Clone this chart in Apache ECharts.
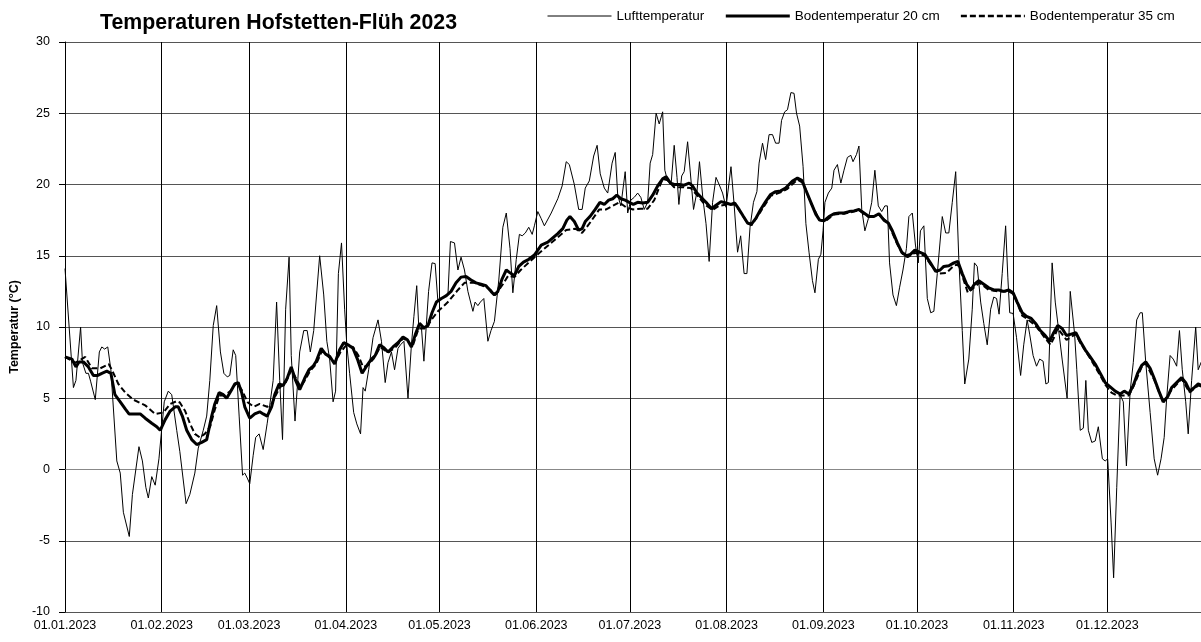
<!DOCTYPE html>
<html>
<head>
<meta charset="utf-8">
<script src="https://cdn.jsdelivr.net/npm/echarts@6/dist/echarts.min.js"></script>
<style>
  html, body { margin: 0; padding: 0; background: #fff; }
  #main { width: 1201px; height: 642px; }
</style>
</head>
<body>
<div id="main"></div>
<script>
// values: [day of year (0 = 01.01.2023), °C]
var airTemp = [
  [0,14.1],[2.7,5.75],[3.5,6.25],[5.0,10],[5.6,7.5],[6.7,6.75],[7.5,6.75],[8.2,6.2],[9.7,4.9],[11,8.25],[11.8,8.6],[12.7,8.45],[13.7,8.6],[14.7,7],
  [16.6,0.6],[17.7,-0.25],[18.7,-3],[20.6,-4.7],[21.6,-1.75],[23.7,1.6],[24.8,0.6],[25.9,-1.25],[26.7,-2],[27.8,-0.5],[28.9,-1.1],[30.1,0.75],
  [31.8,4.75],[33.1,5.5],[34.2,5.25],[35.8,2.75],[36.8,1.25],[38.8,-2.4],[40,-1.75],[41.6,-0.25],[42.7,1.5],[44.3,2.75],[45.4,3.75],[46.4,6.25],
  [47.5,10.1],[48.6,11.5],[49.8,8.25],[50.9,6.75],[52,6.5],[52.8,6.6],[53.9,8.4],[54.7,8],[55.8,3.75],[56.9,-0.4],[57.6,-0.25],[58.4,-0.6],
  [59.2,-1],[60.3,1],[61.1,2.25],[62.2,2.5],[63.5,1.4],[64.8,3.25],[66.7,6.25],[67.8,11.75],[68.8,6.25],[69.7,2.1],[70.7,11.25],[71.8,14.9],
  [72.5,8],[73.7,3.4],[75.2,8.25],[76.5,9.75],[77.6,9.75],[78.6,8.25],[79.7,9.75],[81.6,15],[82.9,12.25],[83.9,9],[84.8,7.75],[85.9,4.75],
  [86.7,5.5],[87.6,13.75],[88.6,15.9],[89.6,11.25],[90.3,8.75],[91.2,6.75],[92.5,4],[93.5,3.2],[94.7,2.5],[95.5,5.75],[96.2,5.5],[97.3,7],
  [98.7,9.25],[100.3,10.5],[101.4,9],[102.6,6.1],[103.5,7.5],[104.6,8.25],[105.6,7],[106.7,8.5],[107.5,8.75],[108.6,9],[109.9,5],[111,8.75],
  [111.8,10.75],[112.7,12.9],[113.3,10.25],[114.2,10],[115,7.6],[115.6,7.6],[116.5,12.5],[117.6,14.5],[118.6,14.45],[119.5,11.75],[120.3,12],
  [121.6,12.1],[122.7,12.25],[123.5,16],[124.8,15.9],[125.9,14],[126.9,14.9],[128,14],[129.1,12.5],[130.7,11.1],[131.4,11.75],[132.3,11.5],
  [133.1,11.75],[134.2,12],[135.5,9],[136.5,9.75],[137.6,10.4],[139,13.3],[140.3,17],[141.4,18],[142.6,15.5],[143.5,12.4],[144.6,14.75],
  [145.6,16.5],[146.5,16.4],[147.5,16.6],[148.6,17],[149.7,16.5],[150.4,17.1],[151.5,18.1],[152.6,17.6],[153.6,17.1],[155.8,18],[157.9,19],
  [159.3,19.9],[160.6,21.6],[161.6,21.4],[163.2,20],[164.6,18.25],[165.7,18.25],[166.7,19.75],[168,20.25],[169.4,22],[170.5,22.75],[171.5,20.75],
  [172.8,19.75],[173.9,19.4],[175.3,21.5],[176.3,22.25],[177.1,19.25],[178.1,18.5],[179.5,20.9],[180.3,18],[181.3,18.9],[182.4,19.1],[183.5,19.4],
  [184.5,19.1],[185.6,18.25],[186.7,18.75],[187.5,21.5],[188.3,22.1],[189.4,25],[190.4,24.25],[191.5,25.1],[192.2,21],[193.1,20.25],[194.2,20],
  [195.2,22.75],[196.1,20.5],[196.7,18.6],[197.6,20.6],[198.4,20.9],[199.5,23],[200.6,20.25],[201.4,18.25],[202.5,19.5],[203.3,21.6],[204.4,19],
  [205.4,17.25],[206.4,14.6],[207.5,18.75],[208.6,20.5],[209.6,20],[210.7,19.4],[211.8,18.4],[213.4,21.25],[214.4,18.6],[215.5,15.25],[216.5,16.4],
  [217.6,13.75],[218.5,13.75],[219.5,17],[220.6,18.75],[221.7,19.5],[222.4,21.5],[223.5,22.9],[224.5,21.75],[225.6,23.5],[226.7,23.5],[227.7,22.9],
  [228.8,22.9],[229.6,24.5],[230.6,25.1],[231.5,25.25],[232.6,26.45],[233.6,26.4],[234.4,25],[235.4,24.1],[236.5,21.25],[237.4,17.25],[238.4,15.25],
  [239.5,13.25],[240.3,12.4],[241.4,14.75],[242.2,15.1],[242.9,16.75],[243.5,18.75],[244.6,19.4],[245.7,19.75],[246.4,21],[247.5,21.4],[248.6,20.1],
  [249.6,21],[250.7,21.9],[251.8,22.05],[252.5,21.6],[253.6,22.1],[254.4,22.7],[255.3,18.25],[256.3,16.75],[257.4,17.6],[258.5,18.75],[259.5,21],
  [260.6,18.5],[261.7,18.1],[262.7,18.5],[263.5,18.5],[264.2,14.5],[265.3,12.25],[266.4,11.5],[267.4,12.75],[268.5,14],[269.6,15.5],[270.4,17.75],
  [271.5,18],[272.5,15.75],[273.4,14.5],[274.1,16.75],[275.2,17.1],[276.3,12],[277.4,11],[278.4,11.1],[279.5,13.75],[281.1,17.75],[282.2,16.6],
  [283.2,16.6],[284.3,18.75],[285.4,20.9],[286.4,14.75],[287.5,9.75],[288.3,6],[289.6,7.75],[290.7,11.25],[291.4,14.5],[292.3,14.25],[293.4,11.75],
  [294.4,10.25],[295.5,8.75],[296.6,11.25],[297.6,12.1],[298.5,12],[299.3,10.9],[300.3,13.75],[301.4,17.1],[302.1,13.5],[302.7,11],[303.8,10.95],
  [304.9,9.25],[306.2,6.6],[307.2,8.75],[308.3,10.5],[309.1,9.5],[310.2,8],[311.3,7.25],[312.3,7.75],[313.4,7.6],[314.3,6],[315.1,6.1],[316.3,14.5],
  [317.3,11.75],[318.4,9.75],[319.5,7.75],[321.1,5],[322.1,12.5],[323.5,9.5],[324.2,7],[325.3,2.75],[326.3,2.9],[327.1,6.25],[327.9,2.75],[329,1.9],
  [330.1,2],[331.1,3],[332.4,0.75],[333.3,0.6],[334.1,0.75],[335.2,-3.75],[336,-7.6],[337,-1.25],[338.1,5.25],[339.1,4.75],[340.1,0.25],[341.3,5.5],
  [342.3,7.5],[343.4,10.5],[344.5,11],[345.2,11],[346.3,7.5],[347.7,4],[349,0.75],[350.1,-0.4],[351.2,0.75],[352.2,2.25],[353,5],[354.1,8],
  [355.1,7.75],[356.2,7.25],[357.1,9.75],[358,7],[359.1,4.75],[359.9,2.5],[361,6.25],[362.3,10],[363.1,7],[364.2,7.6]
]

var soil20 = [
  [0,7.9],[2.2,7.75],[3.5,7.2],[4.5,7.55],[5.9,7.55],[7.5,7.2],[9.1,6.6],[10.5,6.6],[11.8,6.75],[13.4,6.9],[14.7,6.75],[16,5.25],[17.7,4.75],
  [19.3,4.25],[20.5,3.9],[21.9,3.9],[24.1,3.9],[25.7,3.6],[27.8,3.25],[29.4,3],[30.5,2.75],[32.1,3.5],[33.7,4.1],[35.3,4.4],[36.3,4.4],[37.6,3.75],
  [39,2.75],[40.6,2.1],[42.2,1.75],[43.8,1.9],[45.4,2.1],[47,3.75],[48,4.6],[49.4,5.4],[50.7,5.25],[51.8,5],[53.4,5.6],[54.4,6],[55.5,6.1],
  [56.6,5.4],[57.6,4.4],[59.2,3.6],[60.8,3.9],[62.4,4.05],[63.5,3.9],[64.8,3.75],[66.2,4.4],[67.2,5.25],[68.6,6],[69.9,5.9],[71.2,6.4],[72.5,7.2],
  [73.9,6.25],[75.2,5.6],[76.8,6.4],[78.2,7],[79.5,7.25],[80.5,7.6],[82.1,8.5],[83.5,8.1],[84.8,7.95],[86.4,7.4],[88,8.4],[89.3,8.9],[90.7,8.75],
  [92.3,8.5],[93.7,7.75],[95.2,6.75],[96.6,7.25],[98.2,7.75],[99.4,8],[100.8,8.75],[102.2,8.55],[103.5,8.25],[105.1,8.6],[106.7,8.9],[108.3,9.3],
  [109.7,9.1],[111,8.6],[112.3,9.5],[113.6,10.25],[115,9.95],[116.3,10.1],[117.6,11],[119,11.75],[120.6,12],[122.2,12.2],[123.7,12.5],[125.3,13.1],
  [126.9,13.5],[128.5,13.55],[130.1,13.3],[131.7,13.1],[133.3,13],[134.9,12.9],[136.5,12.5],[137.6,12.25],[138.7,12.5],[140.1,13.4],[141.4,14],
  [142.6,13.8],[144,13.6],[145.4,14.25],[146.9,14.55],[148.6,14.75],[150.4,15.05],[152.6,15.75],[154.7,15.95],[156.3,16.25],[157.9,16.55],
  [159.5,16.9],[160.8,17.5],[161.8,17.75],[163.2,17.4],[164.6,16.8],[165.7,16.9],[166.7,17.4],[168.2,17.75],[169.9,18.25],[171.4,18.75],
  [172.8,18.6],[174.2,18.9],[175.5,19],[176.8,19.25],[178.1,19],[179.5,18.9],[180.8,18.75],[182.1,18.6],[183.5,18.75],[185.1,18.7],[186.7,18.75],
  [188.3,19.25],[189.9,19.9],[191.5,20.4],[192.6,20.55],[194,20.1],[195.2,20],[196.8,20],[198.4,19.95],[200,20.1],[201.1,19.9],[202.5,19.4],
  [203.8,19.1],[205.4,18.75],[207.2,18.3],[208.6,18.55],[210.2,18.8],[211.8,18.7],[213.4,18.6],[214.6,18.7],[216,18.25],[217.4,17.75],[218.7,17.3],
  [219.9,17.2],[221.3,17.6],[222.9,18.25],[224.5,18.8],[226.1,19.3],[227.7,19.5],[229.3,19.55],[230.9,19.75],[233.1,20.25],[234.7,20.45],
  [236.1,20.3],[237.4,19.6],[239,18.75],[240.6,17.9],[241.8,17.5],[243.2,17.45],[244.8,17.75],[246.4,17.95],[248,18],[249.6,18],[251.2,18.1],
  [252.8,18.15],[254.4,18.25],[256,18],[257.6,17.75],[259.2,17.75],[260.8,17.95],[262.4,17.5],[263.8,17.3],[265.1,16.75],[266.7,15.9],[268.1,15.25],
  [269.6,15],[270.9,15.1],[272.3,15.4],[273.8,15.25],[275.5,15.1],[277.3,14.5],[279,13.9],[280.4,14],[281.6,14.25],[283.2,14.3],[284.8,14.5],
  [286.1,14.6],[287.5,13.75],[288.9,13],[290.2,12.6],[291.4,13],[292.8,13.25],[294.4,13],[296,12.75],[297.6,12.6],[299.2,12.6],[300.8,12.5],
  [302.4,12.6],[303.8,12.4],[305.1,11.75],[306.7,11],[308.1,10.75],[309.6,10.6],[311,10.25],[312.5,9.75],[314.1,9.4],[315.5,9],[316.8,9.6],
  [318.1,10.1],[319.5,9.9],[320.9,9.4],[322.4,9.5],[323.9,9.6],[325.3,9],[326.9,8.4],[328.5,7.9],[330.1,7.4],[331.7,6.75],[333.3,6.1],[334.9,5.8],
  [336.5,5.5],[338.1,5.3],[339.4,5.5],[340.9,5.3],[342.3,5.9],[343.7,6.75],[345,7.3],[346.3,7.55],[347.7,7.1],[349,6.4],[350.5,5.5],[351.9,4.75],
  [353.3,5.1],[354.6,5.75],[356.2,6.1],[357.8,6.45],[359.1,6.1],[360.4,5.5],[361.8,5.75],[363.1,6],[364.4,5.9]
]

var soil35 = [
  [0,7.9],[3.3,7.5],[6.5,7.9],[8.6,7.1],[11.3,7.1],[14,7.4],[15,7],[17.1,6],[19.3,5.4],[21.9,4.9],[25.7,4.5],[28.9,3.9],[31.5,4],[33.7,4.6],
  [35.8,4.8],[36.8,4.7],[38.5,4.1],[40,3.25],[41.6,2.5],[43.2,2.25],[44.8,2.5],[46.5,3],[48,4.2],[49.5,5.2],[51,5.2],[53,5.5],[55,6.1],[56.6,5.6],
  [58.6,4.7],[60.5,4.4],[62.4,4.6],[64.8,4.4],[66.2,4.6],[67.5,5.2],[69,5.8],[70.5,6],[72.5,7],[74,6.4],[75.5,5.8],[77,6.3],[78.5,6.9],[80.5,7.4],
  [82.3,8.3],[84,8],[86.5,7.5],[88.2,8.2],[90,8.7],[92.3,8.6],[94,8],[95.5,7.2],[97,7.3],[99,7.8],[101,8.6],[103.5,8.2],[106,8.6],[108.3,9.2],
  [110,9],[111.3,8.6],[113.3,9.9],[115.7,9.9],[117.4,10.5],[119.5,11.1],[122.7,11.75],[125.9,12.6],[128,13.1],[131.2,13.1],[135.5,12.75],
  [138.1,12.3],[140.3,13],[142,13.6],[144,13.5],[146,14],[149,14.6],[151.5,15.1],[156.3,16],[160.6,16.8],[163.5,16.9],[165.7,16.6],[168,17.25],
  [171.2,18.25],[173.4,18.25],[175.5,18.5],[177.6,18.75],[179.8,18.4],[182,18.25],[184.5,18.3],[186.7,18.3],[188.8,18.9],[191.5,20.4],
  [193.1,20.3],[195.2,19.8],[198.4,19.8],[200.5,19.75],[202.7,19.2],[205,18.6],[207.5,18.2],[209.5,18.5],[212,18.6],[214.6,18.6],[216,18.2],
  [218.7,17.3],[220,17.15],[222.9,18.1],[226.1,19.2],[229.3,19.45],[231.5,19.7],[234.7,20.35],[236.5,20.1],[239,18.7],[241.8,17.5],[243.5,17.4],
  [246.4,17.9],[249.6,17.95],[252.8,18.1],[254.4,18.2],[257.6,17.7],[260.8,17.9],[263.8,17.25],[266.7,15.8],[268.5,15.1],[270,14.9],[272.3,15.2],
  [275.5,15],[277.3,14.4],[280,13.75],[282.5,13.8],[284.8,14.3],[286.1,14.4],[287.5,13.6],[289.3,12.4],[291.4,12.8],[293,13.1],[296,12.6],
  [299.2,12.5],[302.4,12.5],[304,12.3],[306.7,10.8],[308.1,10.6],[311,10.1],[314.1,9.2],[315.8,8.75],[317,9.3],[318.1,9.9],[320.9,9.1],
  [323.9,9.5],[325.3,8.9],[328.5,7.8],[331.7,6.6],[333.5,5.9],[335.3,5.4],[337,5.2],[338.1,5.2],[340.9,5.2],[342.3,5.8],[345,7.2],[346.3,7.45],
  [349,6.3],[351.9,4.7],[354.6,5.6],[357.8,6.35],[360.4,5.4],[363.1,5.9],[364.4,5.8]
]

var seriesNames = ['Lufttemperatur', 'Bodentemperatur 20 cm', 'Bodentemperatur 35 cm']

// one category per day of 2023, labels only on the 1st of each month
var days = []
for (let i = 0; i < 365; i++) {
  let d = new Date(Date.UTC(2023, 0, 1 + i))
  let dd = String(d.getUTCDate()).padStart(2, '0')
  let mm = String(d.getUTCMonth() + 1).padStart(2, '0')
  days.push(dd + '.' + mm + '.2023')
}
function isMonthStart (index, value) {
  return days[index].substring(0, 2) === '01'
}

var font = 'Liberation Sans, Arial, sans-serif'
var lineStyles = [
  { color: '#000', width: 1 },
  { color: '#000', width: 3 },
  { color: '#000', width: 2.5, type: [6, 3] }
]

var myChart = echarts.init(document.getElementById('main'))

var option = {
  backgroundColor: '#fff',
  animation: false,
  title: {
    text: 'Temperaturen Hofstetten-Flüh 2023',
    left: 95,
    top: 8,
    textStyle: { fontFamily: font, fontSize: 21.3, fontWeight: 'bold', color: '#000' }
  },
  legend: {
    left: 542,
    top: 4,
    itemWidth: 64,
    itemHeight: 14,
    itemGap: 20,
    itemStyle: { opacity: 0 },
    textStyle: { fontFamily: font, fontSize: 13.5, color: '#000' },
    data: seriesNames.map(function (n, i) {
      return { name: n, lineStyle: lineStyles[i] }
    })
  },
  grid: { left: 63, right: 0, top: 42, bottom: 30, containLabel: false },
  xAxis: [{
    type: 'category',
    data: days,
    boundaryGap: false,
    axisLine: { lineStyle: { color: '#888' } },
    axisTick: { show: true, interval: isMonthStart, length: 4, lineStyle: { color: '#000' } },
    axisLabel: { interval: isMonthStart, fontFamily: font, fontSize: 12.5, color: '#000', margin: 7 },
    splitLine: { show: true, interval: isMonthStart, lineStyle: { color: '#000', width: 1 } }
  }, {
    type: 'value',
    min: 0,
    max: 364,
    show: false
  }],
  yAxis: {
    type: 'value',
    min: -10,
    max: 30,
    interval: 5,
    name: 'Temperatur (°C)',
    nameLocation: 'middle',
    nameGap: 44,
    nameTextStyle: { fontFamily: font, fontSize: 12.5, fontWeight: 'bold', color: '#000' },
    axisLine: { show: true, lineStyle: { color: '#000' } },
    axisTick: { show: true, length: 6, lineStyle: { color: '#000' } },
    axisLabel: { fontFamily: font, fontSize: 12.5, color: '#000', margin: 15 },
    splitLine: { lineStyle: { color: '#555', width: 1 } }
  },
  series: [{
    name: seriesNames[0],
    type: 'line',
    xAxisIndex: 1,
    symbol: 'none',
    data: airTemp,
    lineStyle: { color: '#000', width: 1 },
    itemStyle: { color: '#000' },
    z: 3
  }, {
    name: seriesNames[1],
    type: 'line',
    xAxisIndex: 1,
    symbol: 'none',
    data: soil20,
    lineStyle: { color: '#000', width: 3 },
    itemStyle: { color: '#000' },
    z: 5
  }, {
    name: seriesNames[2],
    type: 'line',
    xAxisIndex: 1,
    symbol: 'none',
    data: soil35,
    lineStyle: { color: '#000', width: 2, type: [6, 3] },
    itemStyle: { color: '#000' },
    z: 4
  }]
}
myChart.setOption(option)
</script>
</body>
</html>
